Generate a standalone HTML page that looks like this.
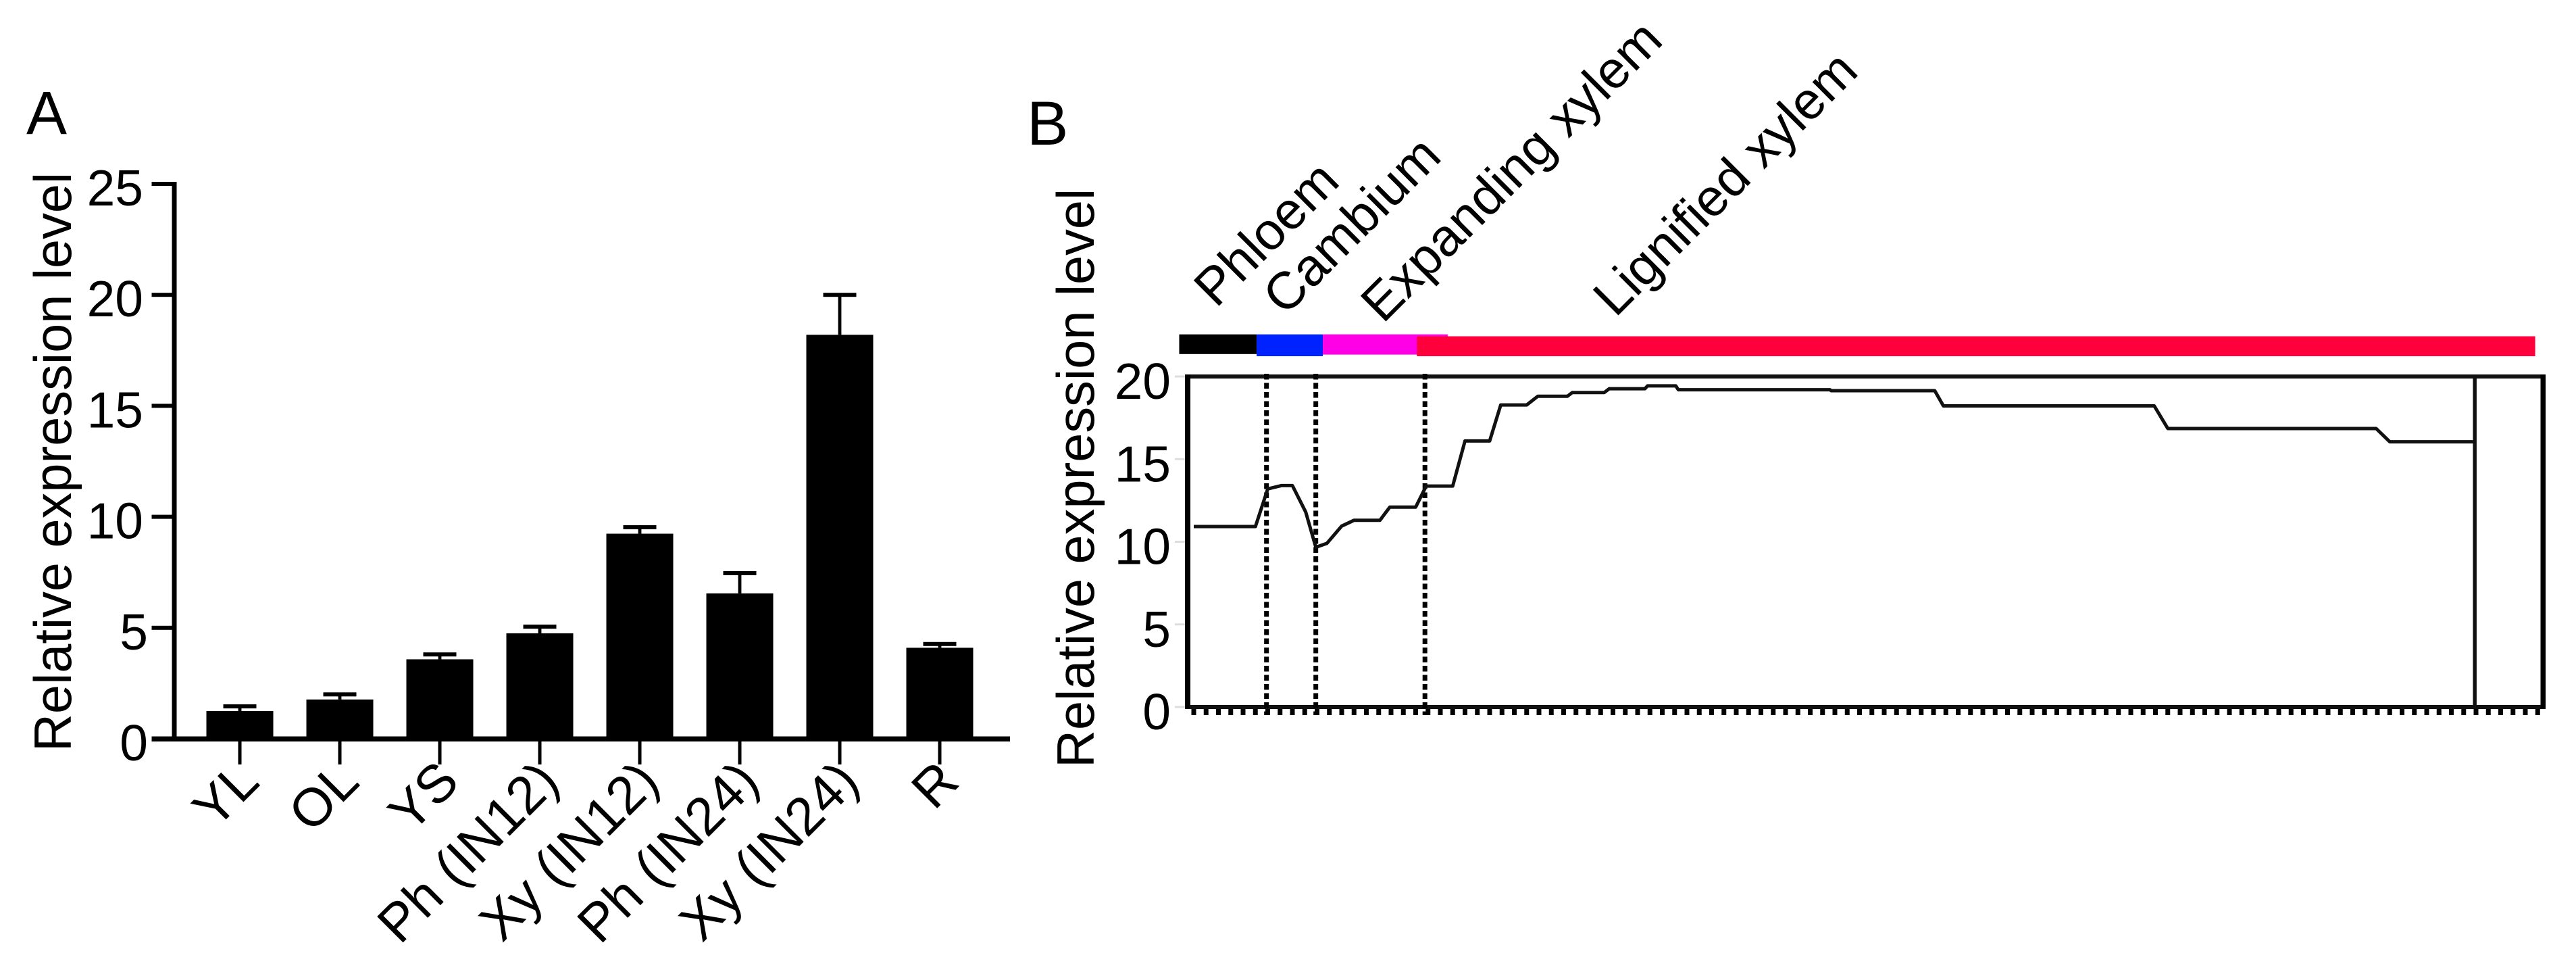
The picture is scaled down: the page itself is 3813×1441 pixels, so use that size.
<!DOCTYPE html>
<html lang="en">
<head>
<meta charset="utf-8">
<title>Relative expression level charts</title>
<style>
html,body{margin:0;padding:0;background:#fff;}
svg{display:block;}
text{font-family:"Liberation Sans",Arial,sans-serif;fill:#000;}
</style>
</head>
<body>
<svg id="figure" xmlns="http://www.w3.org/2000/svg" width="3813" height="1441" viewBox="0 0 3813 1441">
  <rect x="0" y="0" width="3813" height="1441" fill="#ffffff"/>
  <text x="39" y="198" font-size="90">A</text>
  <text x="1520" y="214" font-size="92">B</text>
  <text transform="translate(105 1112) rotate(-90)" font-size="77.5">Relative expression level</text>
  <text transform="translate(1619 1136) rotate(-90)" font-size="77.5">Relative expression level</text>
  <g id="panel-a"></g>
  <g id="panel-b"></g>
</svg>
<script>
// Panel A data
const barCategories = ['YL', 'OL', 'YS', 'Ph (IN12)', 'Xy (IN12)', 'Ph (IN24)', 'Xy (IN24)', 'R'];
const barValues = [1.25, 1.77, 3.58, 4.75, 9.24, 6.55, 18.2, 4.1];
const barErrorTops = [1.46, 2.0, 3.8, 5.05, 9.53, 7.46, 20.0, 4.27];
const barTickLabels = [0, 5, 10, 15, 20, 25];

// Panel B data
const sampleCount = 110;
const lineSamples = [0, 5, 6, 7.1, 8, 9.08, 9.9, 10.8, 12, 13, 15.1, 15.9, 18, 18.85, 21, 22, 24, 24.9, 27, 27.9, 30.3, 30.7, 33.3, 33.7, 36.6, 36.8, 39.1, 39.3, 51.6, 51.7, 60.1, 60.8, 77.9, 79, 95.9, 97, 103.8];
const lineValues = [10.92, 10.92, 13.2, 13.4, 13.4, 11.8, 9.67, 9.9, 10.95, 11.3, 11.3, 12.1, 12.1, 13.37, 13.37, 16.1, 16.1, 18.28, 18.28, 18.8, 18.8, 19.03, 19.03, 19.26, 19.26, 19.43, 19.43, 19.2, 19.2, 19.14, 19.14, 18.22, 18.22, 16.85, 16.85, 16.05, 16.05];
const lineTickLabels = [0, 5, 10, 15, 20];
const stageBoundaries = [5.9, 9.9, 18.75];
const endMarkerSample = 103.9;
const stageNames = ['Phloem', 'Cambium', 'Expanding xylem', 'Lignified xylem'];
const stageBandStarts = [-1.18, 5.1, 10.47, 18.1];
const stageBandEnds = [5.1, 10.47, 20.6, 108.8];
const stageColors = ['#000000', '#0022ff', '#ff00e6', '#ff003c'];

const NS = 'http://www.w3.org/2000/svg';
function mk(tag, parent) {
  const el = document.createElementNS(NS, tag);
  parent.appendChild(el);
  return el;
}
function rect(parent, x, y, w, h, fill) {
  const el = mk('rect', parent);
  el.setAttribute('x', x);
  el.setAttribute('y', y);
  el.setAttribute('width', w);
  el.setAttribute('height', h);
  el.setAttribute('fill', fill);
  return el;
}
function label(parent, x, y, str, size, anchor) {
  const el = mk('text', parent);
  el.setAttribute('x', x);
  el.setAttribute('y', y);
  el.setAttribute('font-size', size);
  el.setAttribute('text-anchor', anchor);
  el.textContent = str;
  return el;
}

// ---- Panel A ----
const A = document.getElementById('panel-a');
const aY = v => 1093 - v * 32.84;
const aX = i => 355 + i * 148;
const aBarW = 99;

barCategories.forEach((cat, i) => {
  const cx = aX(i);
  const bar = rect(A, cx - aBarW / 2, aY(barValues[i]), aBarW, aY(0) - aY(barValues[i]), '#000');
  
  

  const stem = rect(A, cx - 2.4, aY(barErrorTops[i]), 4.8, aY(barValues[i]) - aY(barErrorTops[i]), '#000');
  
  

  const cap = rect(A, cx - 24.5, aY(barErrorTops[i]) - 3, 49, 6, '#000');
  
  

  const tick = rect(A, cx - 2.5, aY(0), 5, 38, '#000');
  
  

  const t = label(A, 0, 0, cat, 79, 'end');
  t.setAttribute('transform', 'translate(' + (cx + 32) + ' 1160) rotate(-45)');
  
  
});

const aYAxis = rect(A, 254.5, aY(25) - 3, 7, aY(0) - aY(25) + 6, '#000');



const aXAxis = rect(A, 224.5, aY(0) - 3.5, 1270.5, 7.5, '#000');



barTickLabels.forEach(v => {
  const tick = rect(A, 224.5, aY(v) - 3, 33, 6, '#000');
  
  

  const t = label(A, String(v).length > 1 ? 212 : 219, aY(v) + 32, String(v), 75, 'end');
  
  
});

// ---- Panel B ----
const B = document.getElementById('panel-b');
const bY = v => 1046 - v * 24.45;
const bX = i => 1767 + i * 18.25;

stageNames.forEach((name, i) => {
  const tops = [494.7, 494.7, 494.7, 497.5];
  const bottoms = [523.8, 527, 524.6, 527];
  const band = rect(B, bX(stageBandStarts[i]), tops[i], bX(stageBandEnds[i]) - bX(stageBandStarts[i]), bottoms[i] - tops[i], stageColors[i]);
  
  
});

const stageAnchorX = [1800, 1902, 2047, 2391];
const stageAnchorY = [457, 469, 480, 471];
stageNames.forEach((name, i) => {
  const t = label(B, 0, 0, name, 77.5, 'start');
  t.setAttribute('transform', 'translate(' + stageAnchorX[i] + ' ' + stageAnchorY[i] + ') rotate(-45)');
  
  
});

for (let i = 0; i < sampleCount; i++) {
  const tick = rect(B, bX(i) - 3.5, 1045, 7, 13, '#000');
  
  
}

lineTickLabels.forEach(v => {
  const tick = rect(B, 1739, bY(v) - 1.5, 16, 3, '#dddddd');
  
  

  const t = label(B, 1733, bY(v) + 33, String(v), 75, 'end');
  
  
});

const bTop = rect(B, 1755, bY(20) - 3, 2012, 6, '#111');



const bBottom = rect(B, 1755, bY(0) - 3, 2012, 6, '#111');



const bLeft = rect(B, 1754, bY(20) - 3, 8, bY(0) - bY(20) + 6, '#000');



const bRight = rect(B, 3760.5, bY(20) - 3, 7.5, bY(0) - bY(20) + 6, '#000');



stageBoundaries.forEach(s => {
  const l = mk('line', B);
  l.setAttribute('x1', bX(s));
  l.setAttribute('x2', bX(s));
  l.setAttribute('y1', bY(20) - 4);
  l.setAttribute('y2', 1058);
  l.setAttribute('stroke', '#000');
  l.setAttribute('stroke-width', 7);
  l.setAttribute('stroke-dasharray', '8.5 5');
  
  
});

const endLine = mk('line', B);
endLine.setAttribute('x1', bX(endMarkerSample));
endLine.setAttribute('x2', bX(endMarkerSample));
endLine.setAttribute('y1', bY(20));
endLine.setAttribute('y2', bY(0));
endLine.setAttribute('stroke', '#111');
endLine.setAttribute('stroke-width', 5.5);



const series = mk('polyline', B);
series.setAttribute('points', lineSamples.map((s, i) => bX(s).toFixed(1) + ',' + bY(lineValues[i]).toFixed(1)).join(' '));
series.setAttribute('fill', 'none');
series.setAttribute('stroke', '#111');
series.setAttribute('stroke-width', 5);
series.setAttribute('stroke-linejoin', 'round');


</script>
</body>
</html>
